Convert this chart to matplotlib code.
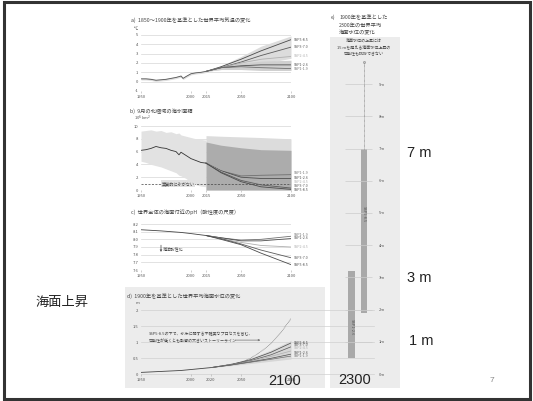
import matplotlib.pyplot as plt
from matplotlib.patches import Rectangle

plt.rcParams['font.family'] = ['Noto Sans CJK JP', 'DejaVu Sans']

W, H = 533, 401

# ---- data ----
ssp_names = ['SSP5-8.5', 'SSP3-7.0', 'SSP2-4.5', 'SSP1-2.6', 'SSP1-1.9']
ssp_colors = ['#4a4a4a', '#5a5a5a', '#b0b0b0', '#4f4f4f', '#707070']

# a) temperature change vs 1850-1900 (degC)
temp_hist_years = [1950, 1955, 1960, 1965, 1970, 1975, 1980, 1985, 1990, 1992, 1995, 2000, 2005, 2010, 2015]
temp_hist = [0.3, 0.3, 0.25, 0.15, 0.2, 0.25, 0.35, 0.45, 0.6, 0.35, 0.55, 0.85, 0.95, 1.0, 1.1]
temp_proj_years = [2015, 2030, 2050, 2070, 2100]
temp_proj = {
    'SSP5-8.5': [1.1, 1.6, 2.4, 3.3, 4.5],
    'SSP3-7.0': [1.1, 1.5, 2.1, 2.8, 3.7],
    'SSP2-4.5': [1.1, 1.5, 2.0, 2.4, 2.7],
    'SSP1-2.6': [1.1, 1.5, 1.7, 1.8, 1.8],
    'SSP1-1.9': [1.1, 1.5, 1.6, 1.5, 1.4],
}
temp_band_hi = [1.1, 1.7, 2.7, 3.8, 4.9]
temp_band_lo = [1.1, 1.3, 1.5, 1.9, 2.5]
temp_band2_hi = [1.1, 1.6, 2.0, 2.2, 2.3]
temp_band2_lo = [1.1, 1.3, 1.3, 1.2, 1.2]

# b) September Arctic sea ice area (10^6 km2)
ice_hist_years = [1950, 1955, 1960, 1965, 1970, 1975, 1980, 1985, 1988, 1990, 1995, 2000, 2005, 2010, 2015]
ice_hist = [6.2, 6.3, 6.5, 6.8, 6.6, 6.5, 6.2, 6.0, 5.5, 5.9, 5.4, 4.9, 4.6, 4.3, 4.2]
ice_hist_hi = [9.2, 9.3, 9.4, 9.2, 9.3, 9.0, 9.1, 8.8, 8.9, 8.6, 8.4, 8.2, 8.0, 7.9, 7.8]
ice_hist_lo = [4.5, 4.3, 4.0, 3.8, 3.6, 3.3, 3.0, 2.7, 2.3, 2.2, 1.8, 1.2, 0.8, 0.6, 0.5]
ice_proj_years = [2015, 2030, 2050, 2070, 2100]
ice_proj = {
    'SSP1-1.9': [4.2, 3.0, 2.2, 2.3, 2.4],
    'SSP1-2.6': [4.2, 3.0, 2.0, 1.8, 1.8],
    'SSP2-4.5': [4.2, 2.9, 1.7, 1.2, 1.0],
    'SSP3-7.0': [4.2, 2.8, 1.5, 0.8, 0.3],
    'SSP5-8.5': [4.2, 2.7, 1.3, 0.5, 0.1],
}
ice_proj_hi = [7.5, 7.0, 6.6, 6.3, 6.2]
ice_proj_light_hi = [8.5, 8.4, 8.3, 8.2, 8.0]
ice_free = 1.0

# c) surface ocean pH
ph_hist_years = [1950, 1970, 1990, 2000, 2015]
ph_hist = [8.125, 8.11, 8.09, 8.075, 8.05]
ph_proj_years = [2015, 2030, 2050, 2070, 2100]
ph_proj = {
    'SSP1-1.9': [8.05, 8.02, 7.99, 8.0, 8.04],
    'SSP1-2.6': [8.05, 8.02, 7.98, 7.98, 8.01],
    'SSP2-4.5': [8.05, 8.01, 7.96, 7.92, 7.90],
    'SSP3-7.0': [8.05, 8.01, 7.94, 7.86, 7.76],
    'SSP5-8.5': [8.05, 8.0, 7.93, 7.82, 7.67],
}

# d) global mean sea level vs 1900 (m)
sl_hist_years = [1950, 1970, 1990, 2000, 2020]
sl_hist = [0.05, 0.08, 0.11, 0.14, 0.2]
sl_proj_years = [2020, 2040, 2060, 2080, 2100]
sl_proj = {
    'SSP5-8.5': [0.2, 0.3, 0.45, 0.68, 0.97],
    'SSP3-7.0': [0.2, 0.29, 0.42, 0.6, 0.85],
    'SSP2-4.5': [0.2, 0.29, 0.4, 0.55, 0.72],
    'SSP1-2.6': [0.2, 0.28, 0.38, 0.49, 0.62],
    'SSP1-1.9': [0.2, 0.28, 0.37, 0.46, 0.56],
}
sl_band_hi = [0.2, 0.32, 0.5, 0.75, 1.05]
sl_band_lo = [0.2, 0.26, 0.33, 0.4, 0.47]
lowlik_years = [2020, 2050, 2060, 2070, 2080, 2090, 2100]
lowlik = [0.2, 0.36, 0.5, 0.7, 0.95, 1.3, 1.73]

# e) sea level in 2300 (m)
bar_names = ['SSP1-2.6', 'SSP5-8.5']
bar_lo = [0.5, 1.9]
bar_hi = [3.2, 7.0]
lowlik_2300 = [7.0, 9.7]


def box(x0, y0, x1, y1):
    return [x0 / W, 1 - y1 / H, (x1 - x0) / W, (y1 - y0) / H]


def style(ax, yticks, ylabels, xticks, ylim):
    ax.set_xlim(1950, 2100)
    ax.set_ylim(*ylim)
    ax.set_facecolor('none')
    for s in ax.spines.values():
        s.set_visible(False)
    ax.set_yticks(yticks)
    ax.set_yticklabels(ylabels)
    ax.set_xticks(xticks)
    ax.set_xticklabels([str(t) for t in xticks])
    ax.tick_params(axis='y', length=0, pad=2, labelsize=3, labelcolor='#555')
    ax.tick_params(axis='x', length=1.2, width=0.4, color='#aaa', pad=1.5, labelsize=3, labelcolor='#555')
    ax.grid(axis='y', color='#d6d6d6', lw=0.5)
    ax.set_axisbelow(True)


def right_labels(ax, values, names, colors):
    for v, n, c in zip(values, names, colors):
        ax.text(2103, v, n, fontsize=2.6, color=c, va='center', ha='left', clip_on=False)


fig = plt.figure(figsize=(W / 100, H / 100), dpi=100)

# slide frame and grey panels (drawn beneath the axes)
fig.patches.append(Rectangle((4 / W, 2 / H), 526 / W, 397 / H, fill=False, lw=2.2,
                             ec='#333333', transform=fig.transFigure, zorder=-2))
fig.patches.append(Rectangle((125 / W, 1 - 388 / H), 200 / W, 101 / H, fc='#ececec', ec='none',
                             transform=fig.transFigure, zorder=-1))
fig.patches.append(Rectangle((330 / W, 1 - 388 / H), 70 / W, 351 / H, fc='#ececec', ec='none',
                             transform=fig.transFigure, zorder=-1))

tc = '#444'

# ---- a ----
ax = fig.add_axes(box(141, 35, 291, 91))
style(ax, range(-1, 6), [str(v) for v in range(-1, 6)], [1950, 2000, 2015, 2050, 2100], (-1, 5))
ax.fill_between(temp_hist_years, [v - 0.12 for v in temp_hist], [v + 0.12 for v in temp_hist],
                color='#dddddd', lw=0)
ax.fill_between(temp_proj_years, temp_band_lo, temp_band_hi, color='#dcdcdc', lw=0)
ax.fill_between(temp_proj_years, temp_band2_lo, temp_band2_hi, color='#cfcfcf', lw=0)
ax.plot(temp_hist_years, temp_hist, color='#555', lw=0.6)
for n, c in zip(ssp_names, ssp_colors):
    ax.plot(temp_proj_years, temp_proj[n], color=c, lw=0.6)
right_labels(ax, [temp_proj[n][-1] for n in ssp_names], ssp_names, ssp_colors)
fig.text(131 / W, 1 - 20 / H, 'a)  1850～1900年を基準とした世界平均気温の変化', fontsize=3.8, color=tc, va='center')
fig.text(134 / W, 1 - 29 / H, '℃', fontsize=3, color='#555', va='center')

# ---- b ----
ax = fig.add_axes(box(141, 126, 291, 190))
style(ax, range(0, 11, 2), [str(v) for v in range(0, 11, 2)], [1950, 2000, 2015, 2050, 2100], (0, 10))
ax.fill_between(ice_hist_years, ice_hist_lo, ice_hist_hi, color='#e2e2e2', lw=0)
ax.fill_between(ice_proj_years, 0, ice_proj_light_hi, color='#dcdcdc', lw=0)
ax.fill_between(ice_proj_years, 0, ice_proj_hi, color='#acacac', lw=0)
ax.plot([1950, 2100], [ice_free, ice_free], color='#444', lw=0.5, ls=(0, (3, 2)))
ax.text(1987, ice_free, '実質的に氷がない', fontsize=3, color='#444', ha='center', va='center',
        bbox=dict(fc='#e2e2e2', ec='none', pad=0.5))
ax.plot(ice_hist_years, ice_hist, color='#333', lw=0.6)
b_names = ssp_names[::-1]
b_colors = ssp_colors[::-1]
for n, c in zip(b_names, b_colors):
    ax.plot(ice_proj_years, ice_proj[n], color=c, lw=0.6)
right_labels(ax, [2.6, 1.9, 1.2, 0.6, 0.0], b_names, b_colors)
fig.text(130 / W, 1 - 111 / H, 'b)  9月の北極域の海氷面積', fontsize=3.8, color=tc, va='center')
fig.text(134 / W, 1 - 118 / H, '10$^6$ km$^2$', fontsize=3, color='#555', va='center')

# ---- c ----
ax = fig.add_axes(box(141, 224, 291, 270))
ph_ticks = [7.6, 7.7, 7.8, 7.9, 8.0, 8.1, 8.2]
style(ax, ph_ticks, [f'{v:.1f}' for v in ph_ticks], [1950, 2000, 2015, 2050, 2100], (7.6, 8.2))
ax.plot(ph_hist_years, ph_hist, color='#444', lw=0.6)
for n, c in zip(b_names, b_colors):
    ax.plot(ph_proj_years, ph_proj[n], color=c, lw=0.6)
right_labels(ax, [8.055, 8.02, 7.9, 7.76, 7.67], b_names, b_colors)
ax.annotate('', xy=(1970, 7.8), xytext=(1970, 7.96),
            arrowprops=dict(arrowstyle='->', color='#444', lw=0.5, mutation_scale=3))
ax.text(1972, 7.88, '海洋酸性化', fontsize=3, color='#444', va='center')
fig.text(131 / W, 1 - 212 / H, 'c)  世界全体の海面付近のpH（酸性度の尺度）', fontsize=3.8, color=tc, va='center')

# ---- d ----
ax = fig.add_axes(box(141, 310, 291, 374))
style(ax, [0, 0.5, 1, 1.5, 2], ['0', '0.5', '1', '1.5', '2'], [1950, 2000, 2020, 2050, 2100], (0, 2))
ax.grid(False)
for v in [0, 0.5, 1, 1.5, 2]:
    ax.axhline(v, xmin=0, xmax=1.55, color='#d0d0d0', lw=0.5, clip_on=False, zorder=0)
ax.fill_between(sl_proj_years, sl_band_lo, sl_band_hi, color='#d6d6d6', lw=0)
ax.plot(sl_hist_years, sl_hist, color='#444', lw=0.6)
for n, c in zip(ssp_names, ssp_colors):
    ax.plot(sl_proj_years, sl_proj[n], color=c, lw=0.5)
right_labels(ax, [0.98, 0.9, 0.8, 0.66, 0.56], ssp_names, ssp_colors)
ax.plot(lowlik_years, lowlik, color='#666', lw=0.5, ls=(0, (1, 1)))
ax.text(1958, 1.14, 'SSP5-8.5の下で、氷床に関する不確実なプロセスを含む、\n可能性が低くとも影響の大きいストーリーライン',
        fontsize=2.9, color='#444', va='center', linespacing=1.5)
ax.annotate('', xy=(2072, 1.06), xytext=(2041, 1.06),
            arrowprops=dict(arrowstyle='->', color='#555', lw=0.4, mutation_scale=3))
fig.text(127 / W, 1 - 296 / H, 'd)  1900年を基準とした世界平均海面水位の変化', fontsize=3.8, color=tc, va='center')
fig.text(136 / W, 1 - 303 / H, 'm', fontsize=3, color='#555', va='center')

# ---- e ----
ax = fig.add_axes(box(340, 52, 375, 374))
ax.set_xlim(0, 1)
ax.set_ylim(0, 10)
ax.set_facecolor('none')
for s in ax.spines.values():
    s.set_visible(False)
ax.set_xticks([])
ax.yaxis.tick_right()
ax.set_yticks(range(10))
ax.set_yticklabels([f'{i}m' for i in range(10)])
ax.tick_params(axis='y', length=0, pad=3, labelsize=3, labelcolor='#555')
ax.hlines(range(10), 0.14, 0.91, color='#cccccc', lw=0.5)
bar_x = [0.34, 0.69]
bar_w = [0.2, 0.17]
ax.bar(bar_x, [h - l for l, h in zip(bar_lo, bar_hi)], bottom=bar_lo, width=bar_w, color='#a9a9a9')
for x, l, h, n in zip(bar_x, bar_lo, bar_hi, bar_names):
    ax.text(x, l + (h - l) * (0.6 if n == 'SSP5-8.5' else 0.35), n, rotation=-90, fontsize=2.8,
            color='#555', ha='center', va='center')
ax.plot([bar_x[1], bar_x[1]], lowlik_2300, color='#777', lw=0.5, ls=(0, (1, 0.8)))
ax.plot([bar_x[1]], [lowlik_2300[1]], 'o', ms=1.5, mfc='none', mec='#777', mew=0.4)
fig.text(331 / W, 1 - 17 / H, 'e)', fontsize=3.8, color=tc, va='center')
fig.text(339 / W, 1 - 25 / H, '1900年を基準とした\n2300年の世界平均\n海面水位の変化', fontsize=3.8,
         color=tc, va='center', linespacing=1.6)
fig.text(364 / W, 1 - 48 / H, '海面水位の上昇には\n15 mを超える海面水位上昇の\n可能性も排除できない',
         fontsize=2.9, color='#444', ha='center', va='center', linespacing=1.5)

# ---- slide texts ----
fig.text(62 / W, 1 - 302 / H, '海面上昇', fontsize=9.5, color='#222', ha='center', va='center')
big = dict(fontsize=10.5, color='#222', family='Liberation Sans', va='center')
fig.text(407 / W, 1 - 153 / H, '7 m', **big)
fig.text(407 / W, 1 - 278 / H, '3 m', **big)
fig.text(409 / W, 1 - 341 / H, '1 m', **big)
fig.text(285 / W, 1 - 381 / H, '2100', ha='center', **big)
fig.text(355 / W, 1 - 380 / H, '2300', ha='center', **big)
fig.text(492 / W, 1 - 380 / H, '7', fontsize=6, color='#888', ha='center', va='center', family='Liberation Sans')

fig.savefig('out.png', dpi=100)
